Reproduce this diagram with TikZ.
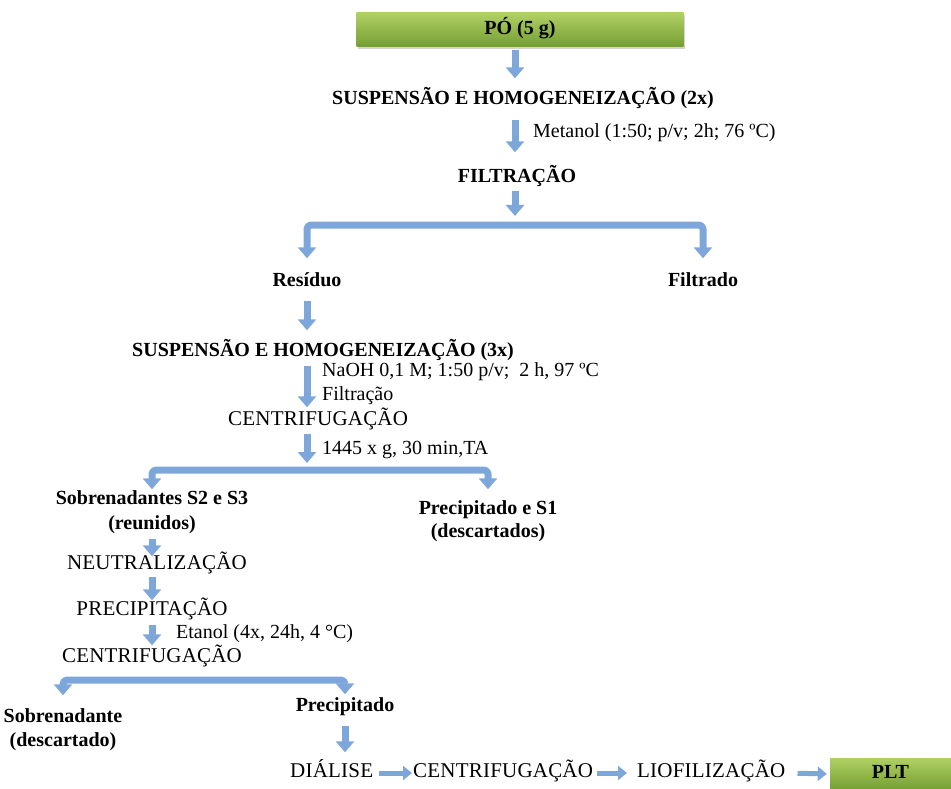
\documentclass[tikz,border=0pt]{standalone}
\usepackage{fontspec}
\setmainfont{Liberation Serif}
\newfontfamily\spacedcaps{Liberation Serif}[LetterSpace=1]
\usetikzlibrary{arrows.meta,shadows}
\definecolor{arrowblue}{RGB}{125,167,219}
\definecolor{boxtop}{RGB}{176,208,100}
\definecolor{boxbot}{RGB}{116,158,50}
\begin{document}
\begin{tikzpicture}[x=1pt,y=-1pt,
  every node/.style={inner sep=0pt, text height=13pt, text depth=4pt},
  bt/.style={font=\fontsize{20}{24}\selectfont\bfseries},
  nt/.style={font=\fontsize{20}{24}\selectfont},
  ct/.style={font=\spacedcaps\fontsize{21}{25}\selectfont},
  greenbox/.style={bt, top color=boxtop, bottom color=boxbot, draw=none,
    drop shadow={opacity=0.35, shadow xshift=1pt, shadow yshift=-2pt}},
  arr/.style={draw=arrowblue, line width=7pt, line join=round,
    -{Triangle[width=18pt,length=11pt]}},
  arrtwo/.style={draw=arrowblue, line width=7pt, line join=round, rounded corners=4pt,
    {Triangle[width=18pt,length=11pt]}-{Triangle[width=18pt,length=11pt]}},
  arrh/.style={draw=arrowblue, line width=5pt,
    -{Triangle[width=14pt,length=9pt]}}
]
\useasboundingbox (0,0) rectangle (951,789);

% ---------- nodes ----------
\node[greenbox, minimum width=327pt, minimum height=34pt] (po) at (520,30) {PÓ (5 g)};
\node[bt, anchor=west] (s1) at (332,100) {SUSPENSÃO E HOMOGENEIZAÇÃO (2x)};
\node[nt, anchor=west] (met) at (533,133) {Metanol (1:50; p/v; 2h; 76 ºC)};
\node[bt] (fil) at (517,178) {FILTRAÇÃO};
\node[bt] (res) at (307,282) {Resíduo};
\node[bt] (filt) at (703,282) {Filtrado};
\node[bt, anchor=west] (s2) at (132,352) {SUSPENSÃO E HOMOGENEIZAÇÃO (3x)};
\node[nt, anchor=west] (naoh) at (322,372) {NaOH 0,1 M; 1:50 p/v;\ \ 2 h, 97 ºC};
\node[nt, anchor=west] (filtr) at (322,396) {Filtração};
\node[ct, anchor=west] (cen1) at (228,421) {CENTRIFUGAÇÃO};
\node[nt, anchor=west] (gg) at (322,450) {1445 x g, 30 min,TA};
\node[bt] (sob) at (152,500) {Sobrenadantes S2 e S3};
\node[bt] (reun) at (152,525) {(reunidos)};
\node[bt] (prec1) at (488,510) {Precipitado e S1};
\node[bt] (desc1) at (488,533) {(descartados)};
\node[ct] (neu) at (157,565) {NEUTRALIZAÇÃO};
\node[ct] (pre) at (152,611) {PRECIPITAÇÃO};
\node[nt, anchor=west] (eta) at (176,634) {Etanol (4x, 24h, 4 °C)};
\node[ct] (cen2) at (152,658) {CENTRIFUGAÇÃO};
\node[bt] (sob2) at (63,718) {Sobrenadante};
\node[bt] (desc2) at (63,742) {(descartado)};
\node[bt] (prec2) at (345,707) {Precipitado};
\node[ct, anchor=west] (dia) at (290,773) {DIÁLISE};
\node[ct, anchor=west] (cen3) at (413,773) {CENTRIFUGAÇÃO};
\node[ct, anchor=west] (lio) at (637,773) {LIOFILIZAÇÃO};
\node[greenbox, minimum width=121pt, minimum height=32pt] (plt) at (890.5,774) {PLT};

% ---------- helper coordinates ----------
\coordinate (cA) at (515,0);
\coordinate (cB) at (307,0);
\coordinate (cC) at (152,0);
\coordinate (k1) at (515,216);
\coordinate (k2) at (307,463);
\coordinate (j1) at (0,225);
\coordinate (j2) at (0,470);
\coordinate (j3) at (0,680);

% ---------- connectors ----------
\draw[arr, shorten <=3pt, shorten >=13pt] (po.south -| cA) -- (s1.north -| cA);
\draw[arr, shorten <=11pt, shorten >=17pt] (s1.south -| cA) -- (fil.north -| cA);
\draw[arr, shorten <=4pt] (fil.south -| cA) -- (k1);
\draw[arrtwo, shorten <=15pt, shorten >=15pt] (res.north) -- (res.north |- j1) -- (filt.north |- j1) -- (filt.north);

\draw[arr, shorten <=10pt, shorten >=13pt] (res.south -| cB) -- (s2.north -| cB);
\draw[arr, shorten <=5pt, shorten >=5pt] (s2.south -| cB) -- (cen1.north -| cB);
\draw[arr, shorten <=4pt] (cen1.south -| cB) -- (k2);
\draw[arrtwo, shorten <=2pt, shorten >=12pt] (sob.north) -- (sob.north |- j2) -- (prec1.north |- j2) -- (prec1.north);

\draw[arr, shorten <=5pt, shorten >=0pt] (reun.south -| cC) -- (neu.north -| cC);
\draw[arr, shorten <=3pt, shorten >=2pt] (neu.south -| cC) -- (pre.north -| cC);
\draw[arr, shorten <=5pt, shorten >=4pt] (pre.south -| cC) -- (cen2.north -| cC);
\draw[arrtwo, shorten <=14pt, shorten >=4pt] (sob2.north) -- (sob2.north |- j3) -- (prec2.north |- j3) -- (prec2.north);

\draw[arr, shorten <=10pt, shorten >=12pt] (prec2.south) -- (dia.north -| prec2.south);
\draw[arrh, shorten <=6pt, shorten >=1pt] (dia.east) -- (cen3.west);
\draw[arrh, shorten <=4pt, shorten >=10pt] (cen3.east) -- (lio.west);
\draw[arrh, shorten <=12pt, shorten >=3pt] (lio.east) -- (plt.west);
\end{tikzpicture}
\end{document}
